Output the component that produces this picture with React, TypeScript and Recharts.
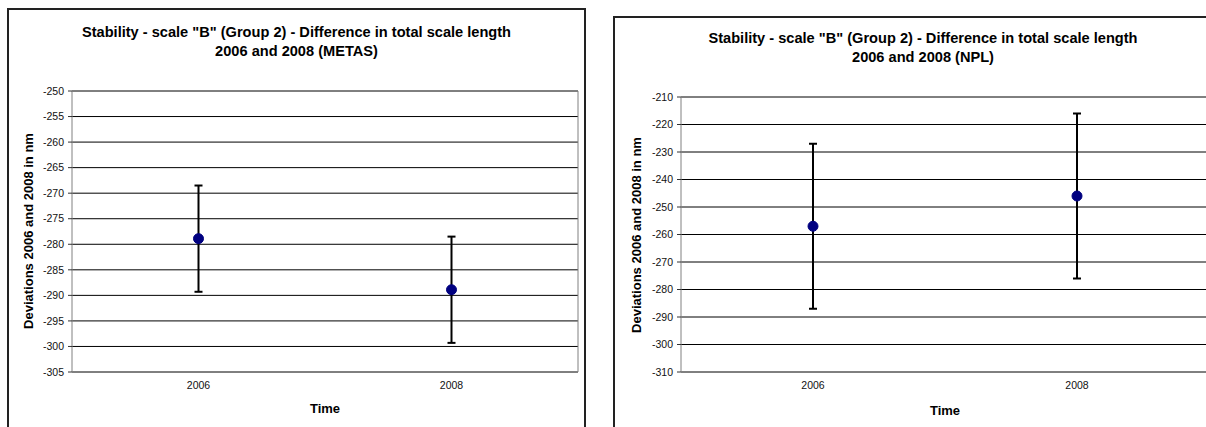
import {
  CartesianGrid,
  ComposedChart,
  ErrorBar,
  Line,
  XAxis,
  YAxis,
} from "recharts";

const years = ["2006", "2008"];

const metasValues = [-278.9, -288.9];
const metasErrors = [10.4, 10.4];
const metasTicks = [-250, -255, -260, -265, -270, -275, -280, -285, -290, -295, -300, -305];

const nplValues = [-257, -246];
const nplErrors = [30, 30];
const nplTicks = [-210, -220, -230, -240, -250, -260, -270, -280, -290, -300, -310];

const FONT = '"Liberation Sans", Arial, sans-serif';
const AXIS_GREY = "#808080";

type Point = { year: string; value: number; err: number };

function buildRows(values: number[], errors: number[]): Point[] {
  return years.map((year, i) => ({ year, value: values[i], err: errors[i] }));
}

type PanelProps = {
  left: number;
  boxLeft: number;
  boxTop: number;
  boxWidth: number;
  chartWidth: number;
  plotTop: number;
  yAxisWidth: number;
  marginRight: number;
  title: string[];
  titleTop: number;
  yTitleX: number;
  yTitleY: number;
  timeX: number;
  timeY: number;
  data: Point[];
  ticks: number[];
};

function StabilityPanel(p: PanelProps) {
  const domain: [number, number] = [p.ticks[p.ticks.length - 1], p.ticks[0]];
  return (
    <>
      <div
        style={{
          position: "absolute",
          left: p.boxLeft,
          top: p.boxTop,
          width: p.boxWidth,
          height: 440,
          border: "2px solid #222",
          boxSizing: "border-box",
        }}
      />
      <div
        style={{
          position: "absolute",
          left: p.boxLeft,
          top: p.titleTop,
          width: p.boxWidth,
          textAlign: "center",
          font: `bold 14.6px ${FONT}`,
          lineHeight: "19px",
          color: "#000",
        }}
      >
        {p.title.map((line) => (
          <div key={line}>{line}</div>
        ))}
      </div>
      <div style={{ position: "absolute", left: p.left, top: 0 }}>
        <ComposedChart
          width={p.chartWidth}
          height={427}
          data={p.data}
          margin={{ top: p.plotTop, right: p.marginRight, bottom: 25, left: 0 }}
        >
          <CartesianGrid stroke="#000" horizontal vertical={false} />
          <XAxis
            dataKey="year"
            scale="band"
            tickLine={false}
            tickSize={0}
            tickMargin={10}
            height={30}
            axisLine={{ stroke: AXIS_GREY }}
            tick={{ fontSize: 10.5, fill: "#111", fontFamily: FONT }}
          />
          <XAxis
            xAxisId="top"
            type="number"
            orientation="top"
            domain={[0, 2]}
            ticks={[1]}
            allowDataOverflow
            mirror
            tick={false}
            tickSize={3}
            axisLine={false}
            tickLine={{ stroke: "#000" }}
          />
          <YAxis
            type="number"
            domain={domain}
            ticks={p.ticks}
            interval={0}
            width={p.yAxisWidth}
            tickSize={4}
            tickMargin={4}
            axisLine={{ stroke: AXIS_GREY }}
            tickLine={{ stroke: "#333" }}
            tick={{ fontSize: 10.5, fill: "#111", fontFamily: FONT }}
          />
          <YAxis
            yAxisId="edge"
            orientation="right"
            domain={domain}
            mirror
            tick={false}
            tickLine={false}
            axisLine={{ stroke: AXIS_GREY }}
          />
          <Line
            dataKey="value"
            stroke="none"
            dot={{ r: 5, fill: "#000080", stroke: "#000080", strokeWidth: 1 }}
            activeDot={false}
            isAnimationActive={false}
          >
            <ErrorBar dataKey="err" direction="y" width={4} strokeWidth={2} stroke="#000" />
          </Line>
        </ComposedChart>
      </div>
      <div
        style={{
          position: "absolute",
          left: p.yTitleX,
          top: p.yTitleY,
          transform: "translate(-50%, -50%) rotate(-90deg)",
          whiteSpace: "nowrap",
          font: `bold 13px ${FONT}`,
          color: "#000",
        }}
      >
        Deviations 2006 and 2008 in nm
      </div>
      <div
        style={{
          position: "absolute",
          left: p.timeX,
          top: p.timeY,
          transform: "translate(-50%, -50%)",
          whiteSpace: "nowrap",
          font: `bold 13px ${FONT}`,
          color: "#000",
        }}
      >
        Time
      </div>
    </>
  );
}

export default function App() {
  return (
    <div
      style={{
        position: "fixed",
        left: 0,
        top: 0,
        width: 1206,
        height: 427,
        overflow: "hidden",
        background: "#fff",
      }}
    >
      <StabilityPanel
        left={0}
        boxLeft={7}
        boxTop={8}
        boxWidth={579}
        chartWidth={600}
        plotTop={91}
        yAxisWidth={72}
        marginRight={22}
        title={['Stability - scale "B" (Group 2) - Difference in total scale length', "2006 and 2008 (METAS)"]}
        titleTop={23}
        yTitleX={28}
        yTitleY={231}
        timeX={325}
        timeY={408}
        data={buildRows(metasValues, metasErrors)}
        ticks={metasTicks}
      />
      <StabilityPanel
        left={600}
        boxLeft={613}
        boxTop={16}
        boxWidth={620}
        chartWidth={620}
        plotTop={97}
        yAxisWidth={81}
        marginRight={11}
        title={['Stability - scale "B" (Group 2) - Difference in total scale length', "2006 and 2008 (NPL)"]}
        titleTop={29}
        yTitleX={636}
        yTitleY={235}
        timeX={945}
        timeY={410}
        data={buildRows(nplValues, nplErrors)}
        ticks={nplTicks}
      />
    </div>
  );
}
